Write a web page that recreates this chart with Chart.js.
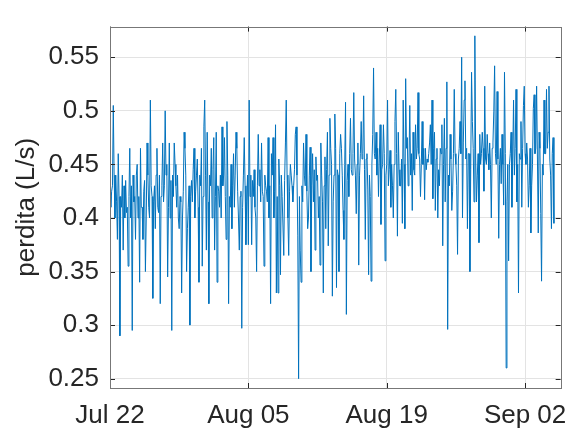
<!DOCTYPE html>
<html>
<head>
<meta charset="utf-8">
<script src="https://cdn.jsdelivr.net/npm/chart.js@4.4.1/dist/chart.umd.min.js"></script>
<style>
  html, body { margin: 0; padding: 0; background: #fff; }
</style>
</head>
<body>
<canvas id="chart" width="579" height="430"></canvas>
<script>
// x axis: days since Jul 22, labelled only on these days
const tickDays = [0, 14, 28, 42];
const tickLabels = ['Jul 22', 'Aug 05', 'Aug 19', 'Sep 02'];
const yTicks = [0.25, 0.3, 0.35, 0.4, 0.45, 0.5, 0.55];

// one sample every 2 hours, starting Jul 22 00:00
const stepDays = 1 / 12;

// leak flow (L/s)
const perdita = [
  // Jul 22 - Jul 27
  0.42, 0.41, 0.425, 0.43, 0.505, 0.44, 0.40, 0.44, 0.415, 0.38, 0.46, 0.42, 0.29, 0.42, 0.41, 0.44,
  0.37, 0.43, 0.40, 0.435, 0.405, 0.41, 0.355, 0.42, 0.465, 0.40, 0.43, 0.295, 0.44, 0.415, 0.42, 0.38,
  0.44, 0.45, 0.40, 0.42, 0.34, 0.465, 0.41, 0.41, 0.38, 0.425, 0.435, 0.35, 0.40, 0.47, 0.44, 0.41,
  0.40, 0.51, 0.43, 0.42, 0.325, 0.415, 0.43, 0.39, 0.44, 0.465, 0.41, 0.405, 0.44, 0.32, 0.42, 0.43,
  0.47, 0.415,
  // Jul 27 - Aug 02
  0.43, 0.50, 0.44, 0.45, 0.345, 0.41, 0.47, 0.40, 0.435, 0.295, 0.44, 0.42, 0.47, 0.45, 0.43, 0.41,
  0.44, 0.40, 0.39, 0.42, 0.415, 0.33, 0.40, 0.425, 0.48, 0.465, 0.44, 0.35, 0.39, 0.41, 0.43, 0.30,
  0.42, 0.435, 0.415, 0.445, 0.465, 0.40, 0.425, 0.44, 0.455, 0.41, 0.34, 0.44, 0.43, 0.465, 0.355, 0.42,
  0.485, 0.51, 0.44, 0.37, 0.48, 0.415, 0.32, 0.44, 0.43, 0.465, 0.40, 0.445, 0.475, 0.37, 0.42, 0.48,
  0.34, 0.43, 0.425, 0.41, 0.44,
  // Aug 02 - Aug 08
  0.40, 0.485, 0.43, 0.44, 0.475, 0.42, 0.38, 0.49, 0.44, 0.32, 0.42, 0.41, 0.45, 0.39, 0.43, 0.46,
  0.41, 0.44, 0.48, 0.465, 0.425, 0.40, 0.37, 0.42, 0.425, 0.297, 0.41, 0.44, 0.475, 0.43, 0.375, 0.415,
  0.44, 0.375, 0.51, 0.42, 0.44, 0.375, 0.435, 0.42, 0.445, 0.41, 0.40, 0.35, 0.43, 0.478, 0.43, 0.445,
  0.415, 0.47, 0.425, 0.42, 0.355, 0.44, 0.43, 0.425, 0.415, 0.475, 0.40, 0.43, 0.32, 0.46, 0.44, 0.475,
  0.40, 0.425, 0.487, 0.33, 0.42,
  // Aug 08 - Aug 13
  0.33, 0.455, 0.43, 0.347, 0.44, 0.42, 0.42, 0.365, 0.435, 0.47, 0.51, 0.44, 0.40, 0.365, 0.425, 0.45,
  0.44, 0.43, 0.415, 0.43, 0.445, 0.478, 0.485, 0.44, 0.384, 0.25, 0.42, 0.37, 0.34, 0.43, 0.415, 0.47,
  0.44, 0.43, 0.478, 0.425, 0.39, 0.40, 0.44, 0.466, 0.35, 0.43, 0.46, 0.415, 0.445, 0.37, 0.457, 0.435,
  0.44, 0.40, 0.42, 0.356, 0.47, 0.44, 0.415, 0.33, 0.43, 0.457, 0.39, 0.445, 0.48, 0.374, 0.44, 0.493,
  0.465, 0.45, 0.327, 0.415, 0.44, 0.497,
  // Aug 13 - Aug 19
  0.465, 0.335, 0.445, 0.44, 0.35, 0.46, 0.478, 0.465, 0.44, 0.407, 0.38, 0.45, 0.508, 0.31, 0.435, 0.45,
  0.42, 0.46, 0.493, 0.445, 0.44, 0.46, 0.517, 0.455, 0.44, 0.404, 0.45, 0.47, 0.356, 0.44, 0.46, 0.49,
  0.455, 0.46, 0.514, 0.445, 0.38, 0.455, 0.46, 0.427, 0.347, 0.44, 0.42, 0.341, 0.45, 0.478, 0.54, 0.46,
  0.455, 0.48, 0.44, 0.465, 0.42, 0.455, 0.487, 0.394, 0.445, 0.45, 0.487, 0.46, 0.36, 0.44, 0.45, 0.51,
  0.43, 0.445, 0.463, 0.41, 0.45,
  // Aug 19 - Aug 25
  0.43, 0.40, 0.45, 0.49, 0.52, 0.46, 0.383, 0.48, 0.445, 0.43, 0.43, 0.455, 0.395, 0.51, 0.45, 0.39,
  0.53, 0.465, 0.475, 0.43, 0.45, 0.505, 0.44, 0.46, 0.407, 0.48, 0.445, 0.44, 0.487, 0.455, 0.465, 0.517,
  0.46, 0.455, 0.42, 0.45, 0.49, 0.45, 0.465, 0.417, 0.465, 0.445, 0.455, 0.452, 0.46, 0.47, 0.487, 0.45,
  0.51, 0.418, 0.465, 0.48, 0.407, 0.455, 0.465, 0.40, 0.445, 0.43, 0.465, 0.46, 0.487, 0.374, 0.45, 0.493,
  0.415, 0.465, 0.527, 0.296, 0.44,
  // Aug 25 - Aug 31
  0.43, 0.478, 0.455, 0.407, 0.425, 0.46, 0.52, 0.46, 0.45, 0.43, 0.366, 0.455, 0.465, 0.49, 0.46, 0.55,
  0.40, 0.47, 0.51, 0.528, 0.455, 0.465, 0.39, 0.46, 0.46, 0.35, 0.445, 0.536, 0.49, 0.465, 0.415, 0.57,
  0.455, 0.415, 0.44, 0.46, 0.377, 0.478, 0.45, 0.46, 0.48, 0.465, 0.425, 0.523, 0.455, 0.45, 0.478, 0.46,
  0.445, 0.47, 0.45, 0.40, 0.465, 0.47, 0.499, 0.542, 0.46, 0.45, 0.518, 0.455, 0.381, 0.45, 0.465, 0.432,
  0.478, 0.45, 0.412, 0.536, 0.46,
  // Aug 31 - Sep 05
  0.26, 0.415, 0.45, 0.36, 0.45, 0.46, 0.48, 0.41, 0.455, 0.51, 0.44, 0.465, 0.52, 0.415, 0.45, 0.33,
  0.46, 0.455, 0.49, 0.41, 0.465, 0.505, 0.523, 0.46, 0.45, 0.47, 0.455, 0.41, 0.43, 0.465, 0.386, 0.43,
  0.45, 0.502, 0.515, 0.46, 0.465, 0.523, 0.455, 0.386, 0.48, 0.465, 0.404, 0.341, 0.45, 0.44, 0.51, 0.46,
  0.46, 0.52, 0.465, 0.48, 0.523, 0.455, 0.44, 0.39, 0.46, 0.475, 0.395
];

const textColor = '#262626';
const fontFamily = '"Liberation Sans", Arial, Helvetica, sans-serif';

// box round the plot and short inward ticks, like a MATLAB axes
const axesBox = {
  id: 'axesBox',
  afterDraw(chart) {
    const { ctx, chartArea: a, scales: { x, y } } = chart;
    ctx.save();
    ctx.strokeStyle = textColor;
    ctx.lineWidth = 1;
    ctx.beginPath();
    tickDays.forEach(d => {
      const px = Math.round(x.getPixelForValue(d)) + 0.5;
      ctx.moveTo(px, a.bottom); ctx.lineTo(px, a.bottom - 5);
      ctx.moveTo(px, a.top); ctx.lineTo(px, a.top + 5);
    });
    yTicks.forEach(v => {
      const py = Math.round(y.getPixelForValue(v)) + 0.5;
      ctx.moveTo(a.left, py); ctx.lineTo(a.left + 5, py);
      ctx.moveTo(a.right, py); ctx.lineTo(a.right - 5, py);
    });
    ctx.stroke();
    ctx.strokeStyle = '#777';
    ctx.strokeRect(Math.round(a.left) + 0.5, Math.round(a.top) + 0.5,
      Math.round(a.right - a.left), Math.round(a.bottom - a.top));
    ctx.restore();
  }
};

new Chart(document.getElementById('chart'), {
  type: 'line',
  data: {
    datasets: [{
      data: perdita.map((v, i) => ({ x: i * stepDays, y: v })),
      borderColor: '#0072BD',
      borderWidth: 1,
      pointRadius: 0,
      tension: 0,
      fill: false
    }]
  },
  options: {
    responsive: false,
    animation: false,
    layout: { padding: { top: 11, right: 9, left: 0, bottom: 0 } },
    plugins: {
      legend: { display: false },
      tooltip: { enabled: false }
    },
    scales: {
      x: {
        type: 'linear',
        min: 0,
        max: 45.6,
        afterBuildTicks: s => { s.ticks = tickDays.map(v => ({ value: v })); },
        afterFit: s => { s.height = 42; },
        grid: { color: '#e3e3e3', drawTicks: false },
        border: { display: false },
        ticks: {
          autoSkip: false,
          maxRotation: 0,
          padding: 12,
          color: textColor,
          font: { family: fontFamily, size: 26 },
          callback: v => tickLabels[tickDays.indexOf(v)]
        }
      },
      y: {
        min: 0.2413,
        max: 0.5786,
        afterBuildTicks: s => { s.ticks = yTicks.map(v => ({ value: v })); },
        afterFit: s => { s.width = 110; },
        grid: { color: '#e3e3e3', drawTicks: false },
        border: { display: false },
        ticks: {
          padding: 11,
          color: textColor,
          font: { family: fontFamily, size: 26 },
          callback: v => String(+v.toFixed(2))
        },
        title: {
          display: true,
          text: 'perdita (L/s)',
          color: textColor,
          font: { family: fontFamily, size: 26 },
          padding: { top: 11, bottom: 0 }
        }
      }
    }
  },
  plugins: [axesBox]
});
</script>
</body>
</html>
